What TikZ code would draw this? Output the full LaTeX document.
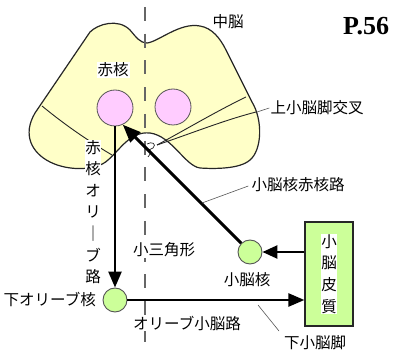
\documentclass[tikz,border=0pt]{standalone}
\usepackage{fontspec}
\setmainfont{Liberation Serif}
\newfontfamily\jp{Noto Sans CJK JP}
\usetikzlibrary{arrows.meta}
\definecolor{brainfill}{HTML}{FFFFC8}
\definecolor{nucpink}{HTML}{FFCCFF}
\definecolor{nucgreen}{HTML}{CCFF99}
\definecolor{dashgray}{HTML}{666666}
\definecolor{rimgray}{HTML}{555555}

\begin{document}
\begin{tikzpicture}[x=1pt,y=-1pt,
  lbl/.style={font=\jp\fontsize{15.5}{15.5}\selectfont, inner sep=1pt, text=black},
  vlbl/.style={lbl, align=center, font=\jp\fontsize{15.5}{21.6}\selectfont},
  whitebg/.style={fill=white},
  rednuc/.style={circle, draw=rimgray, line width=0.8pt, fill=nucpink, minimum size=36pt, inner sep=0pt},
  grnuc/.style={circle, draw=rimgray, line width=0.9pt, fill=nucgreen, minimum size=24pt, inner sep=0pt},
  tract/.style={line width=2.5pt, -{Triangle[length=16pt,width=13pt]}},
  bigtract/.style={line width=3pt, -{Triangle[length=18pt,width=14pt]}},
  leader/.style={line width=0.6pt, draw=rimgray},
  outline/.style={line width=1.2pt, draw=black!85}
]
\useasboundingbox (0,0) rectangle (394,358);

% midbrain cross-section
\draw[outline, fill=brainfill]
  (90,32) .. controls (98,24) and (118,18) .. (130,30)
  .. controls (136,37) and (140,43) .. (147,43)
  .. controls (158,42) and (180,22) .. (200,26)
  .. controls (212,28) and (220,38) .. (226,50)
  .. controls (235,68) and (245,88) .. (252,102)
  .. controls (263,120) and (262,150) .. (250,160)
  .. controls (240,169) and (215,169) .. (200,168)
  .. controls (185,166) and (172,136) .. (150,133)
  .. controls (130,131) and (120,150) .. (108,160)
  .. controls (98,170) and (70,172) .. (50,162)
  .. controls (32,153) and (22,135) .. (35,113)
  -- cycle;

% superior cerebellar peduncles and their decussation
\draw[outline, line width=0.9pt] (42,106) .. controls (65,125) and (90,142) .. (112,155);
\draw[outline, line width=0.9pt] (157,145) .. controls (185,130) and (215,112) .. (246,97);
\draw[outline, line width=0.9pt] (157,145) .. controls (195,132) and (225,120) .. (256,112);
\draw[outline, line width=0.7pt] (147,144) .. controls (152,141) and (157,144) .. (153,148)
  .. controls (151,150) and (148,150) .. (147,149)
  (150,150) .. controls (151,153) and (150,155) .. (148,157);

% midline
\draw[dashgray, line width=1.6pt, dash pattern=on 14pt off 12.75pt] (145,7) -- (145,343);

% nuclei
\node[rednuc] (rnL) at (115,108) {};
\node[rednuc] (rnR) at (173,107) {};
\node[grnuc] (olive) at (115,300) {};
\node[grnuc] (cbn) at (250,252) {};
\node[draw=black!85, line width=1.2pt, fill=nucgreen, minimum width=48pt, minimum height=104pt, inner sep=0pt] (cortex) at (329,274) {};
\node[vlbl, fill=white, inner sep=0.5pt] (cortextxt) at (cortex.center) {小\\脳\\皮\\質};

% tracts
\draw[tract] (rnL.south) -- (olive.north);
\draw[tract] (olive.east) -- (olive.east -| cortex.west);
\draw[tract, -{Triangle[length=15pt,width=13pt]}] (cortex.west |- cbn) -- (cbn.east);
\draw[bigtract] (cbn.135) -- (rnL.-65);

% labels
\node[lbl] (midbrain) at (228,22) {中脳};
\node[font=\bfseries\fontsize{26}{26}\selectfont, inner sep=0pt] (page) at (366,26) {P.56};
\node[lbl, whitebg] (rnlbl) at (113,70) {赤核};
\node[lbl] (scpx) at (317,108) {上小脳脚交叉};
\coordinate (scpxpt) at (257,112);
\draw[leader] (scpxpt) -- (scpx.west);
\node[vlbl, whitebg, inner sep=0.5pt] (rotract) at (93,212) {赤\\核\\オ\\リ\\｜\\ブ\\路};
\node[lbl] (cbrtract) at (298,185) {小脳核赤核路};
\coordinate (cbrpt) at (202,203);
\draw[leader] (cbrtract.west) ++(-2,1) -- (cbrpt);
\node[lbl, whitebg] (triangle) at (164,250) {小三角形};
\node[lbl] (cbnlbl) at (247,280) {小脳核};
\node[lbl, anchor=east, inner sep=0pt] (olivelbl) at (96,300) {下オリーブ核};
\node[lbl, whitebg] (octract) at (187,323) {オリーブ小脳路};
\node[lbl] (icp) at (315,343) {下小脳脚};
\coordinate (icppt) at (258,305);
\draw[leader] (icppt) -- (279,331);
\end{tikzpicture}
\end{document}
